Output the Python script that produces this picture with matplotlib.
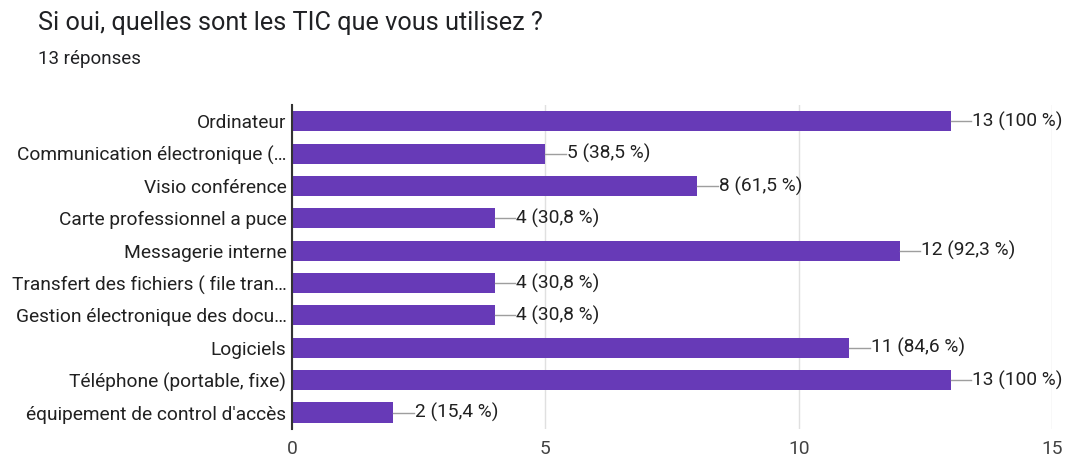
import matplotlib
matplotlib.use("Agg")
import matplotlib.pyplot as plt

plt.rcParams['font.family'] = ['Roboto', 'DejaVu Sans']

categories = [
    "Ordinateur",
    "Communication électronique (…",
    "Visio conférence",
    "Carte professionnel a puce",
    "Messagerie interne",
    "Transfert des fichiers ( file tran…",
    "Gestion électronique des docu…",
    "Logiciels",
    "Téléphone (portable, fixe)",
    "équipement de control d'accès",
]
counts = [13, 5, 8, 4, 12, 4, 4, 11, 13, 2]
labels = ["13 (100 %)", "5 (38,5 %)", "8 (61,5 %)", "4 (30,8 %)", "12 (92,3 %)",
          "4 (30,8 %)", "4 (30,8 %)", "11 (84,6 %)", "13 (100 %)", "2 (15,4 %)"]
xticks = [0, 5, 10, 15]

fig = plt.figure(figsize=(10.67, 4.59), dpi=100)
ax = fig.add_axes([0.2737, 0.066, 0.7123, 0.705])

y = list(range(len(categories)))
ax.barh(y, counts, height=0.62, color="#673ab7", zorder=3)

for yi, c, lab in zip(y, counts, labels):
    ax.plot([c, c + 0.4], [yi, yi], color="#9e9e9e", lw=1, zorder=3)
    ax.text(c + 0.42, yi, lab, va="center", ha="left", fontsize=13.8, color="#212121")

ax.set_ylim(len(categories) - 0.5, -0.5)
ax.set_xlim(0, 15)
ax.set_yticks(y)
ax.set_yticklabels(categories, fontsize=13.8, color="#212121")
ax.set_xticks(xticks)
ax.set_xticklabels([str(t) for t in xticks], fontsize=13.8, color="#424242")
ax.tick_params(length=0, pad=4)
ax.tick_params(axis='x', pad=8)
ax.grid(axis='x', color="#e0e0e0", lw=1, zorder=0)
for s in ["top", "right", "bottom"]:
    ax.spines[s].set_visible(False)
ax.spines["left"].set_color("#333333")
ax.spines["left"].set_linewidth(1.5)
ax.spines["left"].set_zorder(4)

fig.text(38 / 1067, 1 - 23 / 459, "Si oui, quelles sont les TIC que vous utilisez ?",
         fontsize=18.2, color="#202124", va="center", ha="left")
fig.text(38 / 1067, 1 - 59 / 459, "13 réponses", fontsize=13.5, color="#202124",
         va="center", ha="left")

fig.savefig("out.png", dpi=100)
